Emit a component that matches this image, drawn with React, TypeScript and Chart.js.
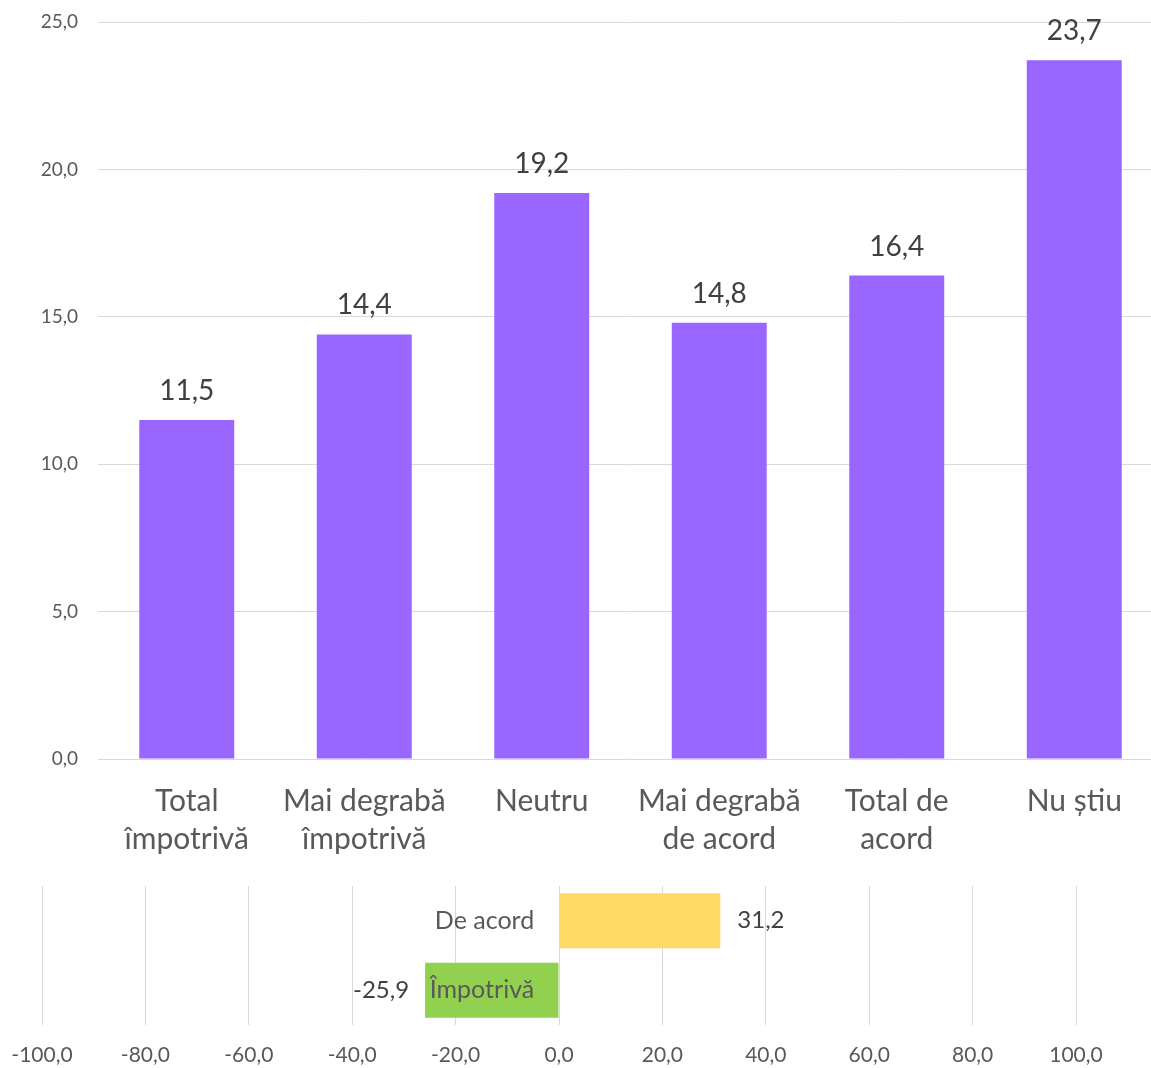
import React, { useEffect, useRef } from "react";
import { Chart, registerables } from "chart.js";

Chart.register(...registerables);

const categories: string[][] = [
  ["Total", "împotrivă"],
  ["Mai degrabă", "împotrivă"],
  ["Neutru"],
  ["Mai degrabă", "de acord"],
  ["Total de", "acord"],
  ["Nu știu"],
];
const values: number[] = [11.5, 14.4, 19.2, 14.8, 16.4, 23.7];
const yTicks = { min: 0, max: 25, step: 5 };

const sumCategories: string[] = ["De acord", "Împotrivă"];
const sumValues: number[] = [31.2, -25.9];
const sumColors: string[] = ["#FFD966", "#92D050"];
const xTicks = { min: -100, max: 100, step: 20 };

const FONT = "Lato";
const fmt = (v: number) => v.toFixed(1).replace(".", ",");

export default function App() {
  const topRef = useRef<HTMLCanvasElement>(null);
  const botRef = useRef<HTMLCanvasElement>(null);

  useEffect(() => {
    const topLabels = {
      id: "topLabels",
      afterDatasetsDraw(chart: any) {
        const ctx = chart.ctx;
        const meta = chart.getDatasetMeta(0);
        ctx.save();
        ctx.font = `28px ${FONT}`;
        ctx.fillStyle = "#404040";
        ctx.textAlign = "center";
        ctx.textBaseline = "alphabetic";
        meta.data.forEach((bar: any, i: number) => {
          ctx.fillText(fmt(values[i]), bar.x, bar.y - 20);
        });
        ctx.restore();
      },
    };

    const top = new Chart(topRef.current!, {
      type: "bar",
      data: {
        labels: categories,
        datasets: [
          {
            data: values,
            backgroundColor: "#9966FF",
            borderWidth: 0,
            barPercentage: 0.535,
            categoryPercentage: 1,
          },
        ],
      },
      options: {
        responsive: false,
        animation: false,
        layout: { padding: { top: 22, right: 2, left: 0, bottom: 0 } },
        plugins: { legend: { display: false }, tooltip: { enabled: false } },
        scales: {
          x: {
            grid: { display: false },
            border: { display: false },
            ticks: {
              font: { family: FONT, size: 30, lineHeight: "38px" } as any,
              color: "#595959",
              padding: 15,
              maxRotation: 0,
              autoSkip: false,
            },
            afterFit: (s: any) => {
              s.height = 111;
              s.paddingLeft = 0;
              s.paddingRight = 0;
            },
          },
          y: {
            min: yTicks.min,
            max: yTicks.max,
            grid: { color: "#d9d9d9", lineWidth: 1, drawTicks: false },
            border: { display: false },
            ticks: {
              stepSize: yTicks.step,
              font: { family: FONT, size: 19 },
              color: "#595959",
              padding: 20,
              callback: (v: any) => fmt(Number(v)),
            },
            afterFit: (s: any) => {
              s.width = 98;
              s.paddingTop = 0;
              s.paddingBottom = 0;
            },
          },
        },
      },
      plugins: [topLabels],
    });

    const botLabels = {
      id: "botLabels",
      afterDatasetsDraw(chart: any) {
        const ctx = chart.ctx;
        const meta = chart.getDatasetMeta(0);
        ctx.save();
        ctx.font = `24px ${FONT}`;
        ctx.fillStyle = "#404040";
        ctx.textBaseline = "middle";
        meta.data.forEach((bar: any, i: number) => {
          const v = sumValues[i];
          if (v >= 0) {
            ctx.textAlign = "left";
            ctx.fillText(fmt(v), bar.x + 17, bar.y);
          } else {
            ctx.textAlign = "right";
            ctx.fillText(fmt(v), bar.x - 16, bar.y);
          }
        });
        ctx.restore();
      },
    };

    const bot = new Chart(botRef.current!, {
      type: "bar",
      data: {
        labels: sumCategories,
        datasets: [
          {
            data: sumValues,
            backgroundColor: sumColors,
            borderWidth: 0,
            barPercentage: 0.79,
            categoryPercentage: 1,
          },
        ],
      },
      options: {
        indexAxis: "y",
        responsive: false,
        animation: false,
        layout: { padding: { top: 16, left: 42, right: 75, bottom: 0 } },
        plugins: { legend: { display: false }, tooltip: { enabled: false } },
        scales: {
          x: {
            min: xTicks.min,
            max: xTicks.max,
            grid: { color: "#d9d9d9", lineWidth: 1, drawTicks: false },
            border: { display: false },
            ticks: {
              stepSize: xTicks.step,
              font: { family: FONT, size: 21 },
              color: "#595959",
              padding: 18,
              maxRotation: 0,
              callback: (v: any) => fmt(Number(v)),
            },
            afterFit: (s: any) => {
              s.height = 43;
              s.paddingLeft = 0;
              s.paddingRight = 0;
            },
          },
          y: {
            position: { x: -4.8 } as any,
            grid: { display: false },
            border: { display: false },
            ticks: {
              z: 1,
              autoSkip: false,
              font: { family: FONT, size: 25 },
              color: "#595959",
            },
            afterFit: (s: any) => {
              s.paddingTop = 0;
              s.paddingBottom = 0;
            },
          },
        },
      },
      plugins: [botLabels],
    });

    return () => {
      top.destroy();
      bot.destroy();
    };
  }, []);

  return (
    <div
      style={{
        position: "absolute",
        left: 0,
        top: 0,
        width: 1151,
        height: 1068,
        overflow: "hidden",
        background: "#fff",
      }}
    >
      <canvas
        ref={topRef}
        width={1165}
        height={870}
        style={{ position: "absolute", left: 0, top: 0, width: 1165, height: 870 }}
      />
      <canvas
        ref={botRef}
        width={1151}
        height={198}
        style={{ position: "absolute", left: 0, top: 870, width: 1151, height: 198 }}
      />
    </div>
  );
}
